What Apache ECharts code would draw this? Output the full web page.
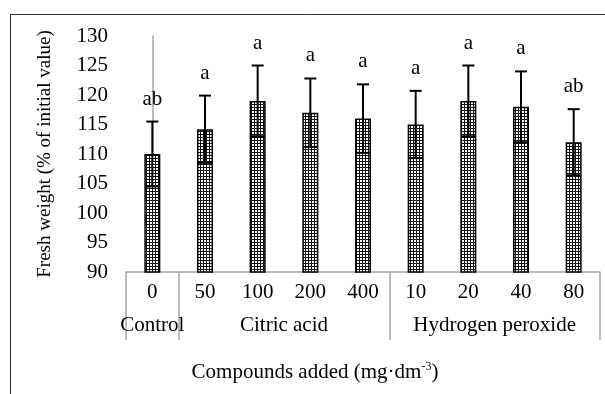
<!DOCTYPE html>
<html>
<head>
<meta charset="utf-8">
<script src="https://cdn.jsdelivr.net/npm/echarts@6.0.0/dist/echarts.min.js"></script>
<style>
  html, body { margin: 0; padding: 0; background: #fff; }
  #chart { width: 605px; height: 394px; }
</style>
</head>
<body>
<div id="chart"></div>
<script>
// data
const categories = ["0", "50", "100", "200", "400", "10", "20", "40", "80"];
const means = [110, 114.2, 119, 117, 116, 115, 119, 118, 112];
const sds = [5.5, 5.7, 6, 5.8, 5.8, 5.7, 6, 6, 5.6];
const letters = ["ab", "a", "a", "a", "a", "a", "a", "a", "ab"];
const groups = ["Control", "Citric acid", "Hydrogen peroxide"];
const groupCenters = [0, 2.5, 6.5];
const groupEdges = [-0.5, 0.5, 4.5, 8.5];
const yTicks = { min: 90, max: 130, step: 5 };

const font = "'Liberation Serif', 'Times New Roman', serif";
const axisGray = "#a6a6a6";

// checkered fill like the original bars
const pat = document.createElement("canvas");
pat.width = 3;
pat.height = 3;
const pctx = pat.getContext("2d");
pctx.fillStyle = "#111111";
pctx.fillRect(0, 0, 3, 3);
pctx.fillStyle = "#ffffff";
pctx.fillRect(0, 0, 2, 2);

const errData = means.map((m, i) => [i, m - sds[i], m + sds[i], letters[i]]);

const chart = echarts.init(document.getElementById("chart"));
const option = {
  animation: false,
  grid: { left: 126, right: 5, top: 36, bottom: 122 },
  xAxis: [
    {
      type: "category",
      data: categories,
      axisLine: { lineStyle: { color: axisGray, width: 1.5 } },
      axisTick: { show: false },
      axisLabel: { color: "#000", fontFamily: font, fontSize: 21, margin: 10 },
    },
    {
      type: "value",
      min: -0.5,
      max: 8.5,
      position: "bottom",
      axisLine: { show: false },
      splitLine: { show: false },
      axisTick: {
        show: true,
        customValues: groupEdges,
        length: 68,
        lineStyle: { color: axisGray, width: 1.5 },
      },
      axisLabel: {
        customValues: groupCenters,
        color: "#000",
        fontFamily: font,
        fontSize: 21,
        margin: 43,
        formatter: (v) => groups[groupCenters.indexOf(v)],
      },
    },
  ],
  yAxis: {
    type: "value",
    min: yTicks.min,
    max: yTicks.max,
    interval: yTicks.step,
    name: "Fresh weight (% of initial value)",
    nameLocation: "middle",
    nameGap: 71,
    nameTextStyle: { color: "#000", fontFamily: font, fontSize: 19 },
    axisLine: { show: true, lineStyle: { color: axisGray, width: 1.5 } },
    axisTick: { show: false },
    splitLine: { show: false },
    axisLabel: { color: "#000", fontFamily: font, fontSize: 21, margin: 18 },
  },
  graphic: [
    {
      type: "line",
      shape: { x1: 10, y1: 14.5, x2: 605, y2: 14.5 },
      style: { stroke: "#333", lineWidth: 1 },
    },
    {
      type: "line",
      shape: { x1: 10.5, y1: 14, x2: 10.5, y2: 394 },
      style: { stroke: "#333", lineWidth: 1 },
    },
    {
      type: "text",
      x: 315,
      y: 372,
      style: {
        text: "Compounds added (mg·dm{sup|-3})",
        font: "21px " + font,
        fill: "#000",
        align: "center",
        verticalAlign: "middle",
        rich: { sup: { fontSize: 12, verticalAlign: "top", padding: [0, 0, 10, 0], fontFamily: font } },
      },
    },
  ],
  series: [
    {
      type: "bar",
      data: means,
      barWidth: 16,
      itemStyle: {
        color: { image: pat, repeat: "repeat" },
        borderColor: "#000",
        borderWidth: 1.5,
      },
    },
    {
      type: "custom",
      data: errData,
      z: 5,
      renderItem: (params, api) => {
        const x = api.coord([api.value(0), api.value(1)])[0];
        const lo = api.coord([api.value(0), api.value(1)])[1];
        const hi = api.coord([api.value(0), api.value(2)])[1];
        const st = { stroke: "#000", lineWidth: 2 };
        return {
          type: "group",
          children: [
            { type: "line", shape: { x1: x, y1: lo, x2: x, y2: hi }, style: st },
            { type: "line", shape: { x1: x - 6, y1: hi, x2: x + 6, y2: hi }, style: st },
            { type: "line", shape: { x1: x - 7, y1: lo, x2: x + 7, y2: lo }, style: st },
            {
              type: "text",
              x: x,
              y: hi - 12,
              style: {
                text: errData[params.dataIndex][3],
                font: "21px " + font,
                fill: "#000",
                align: "center",
                verticalAlign: "bottom",
              },
            },
          ],
        };
      },
    },
  ],
};
chart.setOption(option);
</script>
</body>
</html>
